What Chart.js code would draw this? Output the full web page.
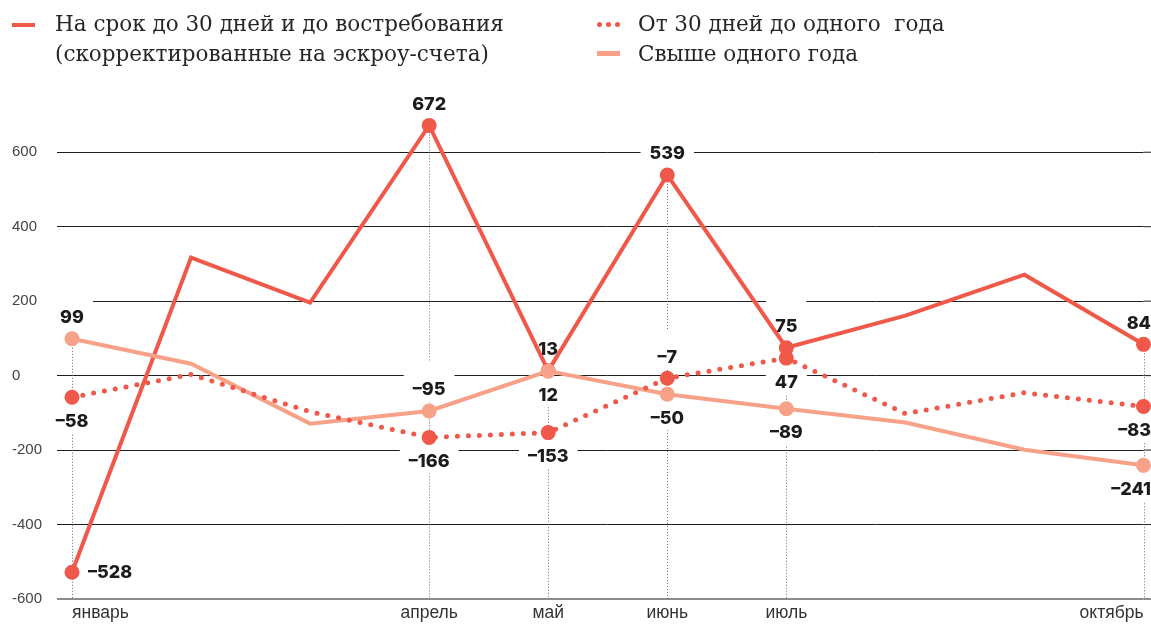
<!DOCTYPE html>
<html lang="ru">
<head>
<meta charset="UTF-8">
<title>Депозиты по срокам</title>
<style>
    html, body { margin: 0; padding: 0; background: #fff; }
    #wrap { position: relative; width: 1151px; height: 626px; overflow: hidden; }
    #chart { position: absolute; left: 0; top: 0; }
    .legend-text { position: absolute; font-family: "DejaVu Serif", serif; font-size: 21.5px; line-height: 30px; color: #262626; white-space: pre; }
    .swatch { position: absolute; }
    .dot { position: absolute; width: 5px; height: 5px; border-radius: 50%; background: #f0584a; }
</style>
</head>
<body>
<div id="wrap">
    <canvas id="chart" width="1151" height="626"></canvas>
    <div class="swatch" style="left:12px;top:23px;width:23px;height:4px;background:#f0584a"></div>
    <div class="legend-text" style="left:55px;top:9px">На срок до 30 дней и до востребования<br>(скорректированные на эскроу-счета)</div>
    <div class="dot" style="left:597px;top:22px"></div>
    <div class="dot" style="left:606px;top:22px"></div>
    <div class="dot" style="left:615px;top:22px"></div>
    <div class="legend-text" style="left:638px;top:9px">От 30 дней до одного  года<br>Свыше одного года</div>
    <div class="swatch" style="left:597px;top:51px;width:23px;height:5px;background:#f7a189"></div>
</div>

<script src="https://cdn.jsdelivr.net/npm/chart.js"></script>
<script>
    // months, only some of them are labelled on the axis
    const tickLabels = ['январь', '', '', 'апрель', 'май', 'июнь', 'июль', '', '', 'октябрь'];

    // series values
    const shortTerm = [-528, 317, 196, 672, 13, 539, 75, 161, 271, 84];
    const midTerm = [-58, 3, -97, -166, -153, -7, 47, -102, -46, -83];
    const longTerm = [99, 32, -129, -95, 12, -50, -89, -126, -199, -241];

    // where each value label goes
    const shortPos = ['right', null, null, 'top', 'top', 'top', 'top', null, null, 'top'];
    const midPos = ['bottom', null, null, 'bottom', 'bottom', 'top', 'bottom', null, null, 'bottom'];
    const longPos = ['top', null, null, 'top', 'bottom', 'bottom', 'bottom', null, null, 'bottom'];

    const RED = '#f0584a';
    const PINK = '#f7a189';
    const labelFont = '800 18px Inter, "DejaVu Sans", sans-serif';
    const tickFont = '"Liberation Sans", Arial, sans-serif';

    const pointSizes = tickLabels.map(t => t ? 7.5 : 0);

    function fmt(v) {
        return v < 0 ? '\u2013' + Math.abs(v) : String(v);
    }

    function collectLabels(chart) {
        const x = chart.scales.x, y = chart.scales.y;
        const ctx = chart.ctx;
        ctx.save();
        ctx.font = labelFont;
        const out = [];
        [[shortTerm, shortPos], [midTerm, midPos], [longTerm, longPos]].forEach(([vals, pos]) => {
            vals.forEach((v, i) => {
                if (!pos[i]) return;
                const px = x.getPixelForValue(i);
                const py = y.getPixelForValue(v);
                const text = fmt(v);
                const w = ctx.measureText(text).width;
                let lx = px, ly = py, align = 'center';
                if (pos[i] === 'top') ly = py - 21;
                if (pos[i] === 'bottom') ly = py + 24;
                if (pos[i] === 'right') { lx = px + 16; align = 'left'; }
                // keep labels inside the picture on the right
                if (align === 'center' && lx + w / 2 > chart.width) lx = chart.width - w / 2;
                out.push({ text, x: lx, y: ly, w, align, pos: pos[i], last: i === vals.length - 1 });
            });
        });
        ctx.restore();
        return out;
    }

    const marksPlugin = {
        id: 'marks',
        beforeDatasetsDraw(chart) {
            const ctx = chart.ctx, x = chart.scales.x, y = chart.scales.y;
            const area = chart.chartArea;

            // let the grid run to the right edge of the picture
            ctx.save();
            y.ticks.forEach(t => {
                if (t.value % 200 !== 0) return;
                const py = y.getPixelForValue(t.value);
                ctx.strokeStyle = t.value === -600 ? '#8c8c8c' : '#1e1e1e';
                ctx.lineWidth = t.value === -600 ? 2 : 1;
                ctx.beginPath();
                ctx.moveTo(area.right, py);
                ctx.lineTo(chart.width, py);
                ctx.stroke();
            });
            ctx.restore();

            // dotted guides under labelled months
            ctx.save();
            ctx.strokeStyle = '#6a6a6a';
            ctx.lineWidth = 1;
            ctx.setLineDash([1, 2]);
            tickLabels.forEach((t, i) => {
                if (!t) return;
                const top = Math.max(shortTerm[i], midTerm[i], longTerm[i]);
                const px = Math.round(x.getPixelForValue(i)) + 0.5;
                ctx.beginPath();
                ctx.moveTo(px, y.getPixelForValue(top));
                ctx.lineTo(px, area.bottom);
                ctx.stroke();
            });
            ctx.restore();

            // white pads behind value labels
            ctx.save();
            ctx.fillStyle = '#fff';
            collectLabels(chart).forEach(l => {
                if (l.last && l.pos === 'top') return;
                const left = l.align === 'center' ? l.x - l.w / 2 - 9 : l.x - 6;
                const top = l.pos === 'top' ? l.y - 28 : l.y - 17;
                ctx.fillRect(left, top, l.w + (l.align === 'center' ? 18 : 12), l.pos === 'top' ? 40 : 29);
            });
            ctx.restore();
        },
        afterDatasetsDraw(chart) {
            const ctx = chart.ctx;
            ctx.save();
            ctx.font = labelFont;
            ctx.fillStyle = '#1c1c1c';
            ctx.textBaseline = 'middle';
            collectLabels(chart).forEach(l => {
                ctx.textAlign = l.align;
                ctx.fillText(l.text, l.x, l.y);
            });
            ctx.restore();
        }
    };

    function gridValue(c) {
        return c.tick ? c.tick.value : 0;
    }

    new Chart(document.getElementById('chart'), {
        type: 'line',
        data: {
            labels: tickLabels,
            datasets: [{
                label: 'От 30 дней до одного года',
                data: midTerm,
                borderColor: RED,
                borderWidth: 5,
                borderDash: [0, 11],
                borderCapStyle: 'round',
                pointRadius: pointSizes,
                pointBackgroundColor: RED,
                pointBorderWidth: 0,
                tension: 0
            }, {
                label: 'Свыше одного года',
                data: longTerm,
                borderColor: PINK,
                borderWidth: 4,
                pointRadius: pointSizes,
                pointBackgroundColor: PINK,
                pointBorderWidth: 0,
                tension: 0
            }, {
                label: 'На срок до 30 дней и до востребования',
                data: shortTerm,
                borderColor: RED,
                borderWidth: 4,
                pointRadius: pointSizes,
                pointBackgroundColor: RED,
                pointBorderWidth: 0,
                tension: 0
            }]
        },
        options: {
            responsive: false,
            devicePixelRatio: 1,
            animation: false,
            clip: false,
            layout: { padding: { left: 12, right: 6, top: 115, bottom: 0 } },
            plugins: { legend: { display: false }, tooltip: { enabled: false } },
            scales: {
                x: {
                    offset: false,
                    grid: { display: false, drawTicks: false },
                    border: { display: false },
                    ticks: {
                        align: 'inner',
                        autoSkip: false,
                        maxRotation: 0,
                        padding: 4,
                        color: '#333',
                        font: { family: tickFont, size: 17.5 }
                    },
                    afterFit(s) { s.height = 27; }
                },
                y: {
                    min: -600,
                    max: 700,
                    border: { display: false },
                    grid: {
                        tickLength: 15,
                        color: c => gridValue(c) % 200 !== 0 ? 'rgba(0,0,0,0)' : (gridValue(c) === -600 ? '#8c8c8c' : '#1e1e1e'),
                        lineWidth: c => gridValue(c) === -600 ? 2 : 1
                    },
                    ticks: {
                        stepSize: 200,
                        crossAlign: 'far',
                        color: '#444',
                        font: { family: tickFont, size: 15 },
                        callback: v => v % 200 === 0 ? v : ''
                    },
                    afterFit(s) { s.width = 60; }
                }
            }
        },
        plugins: [marksPlugin]
    });
</script>
</body>
</html>
